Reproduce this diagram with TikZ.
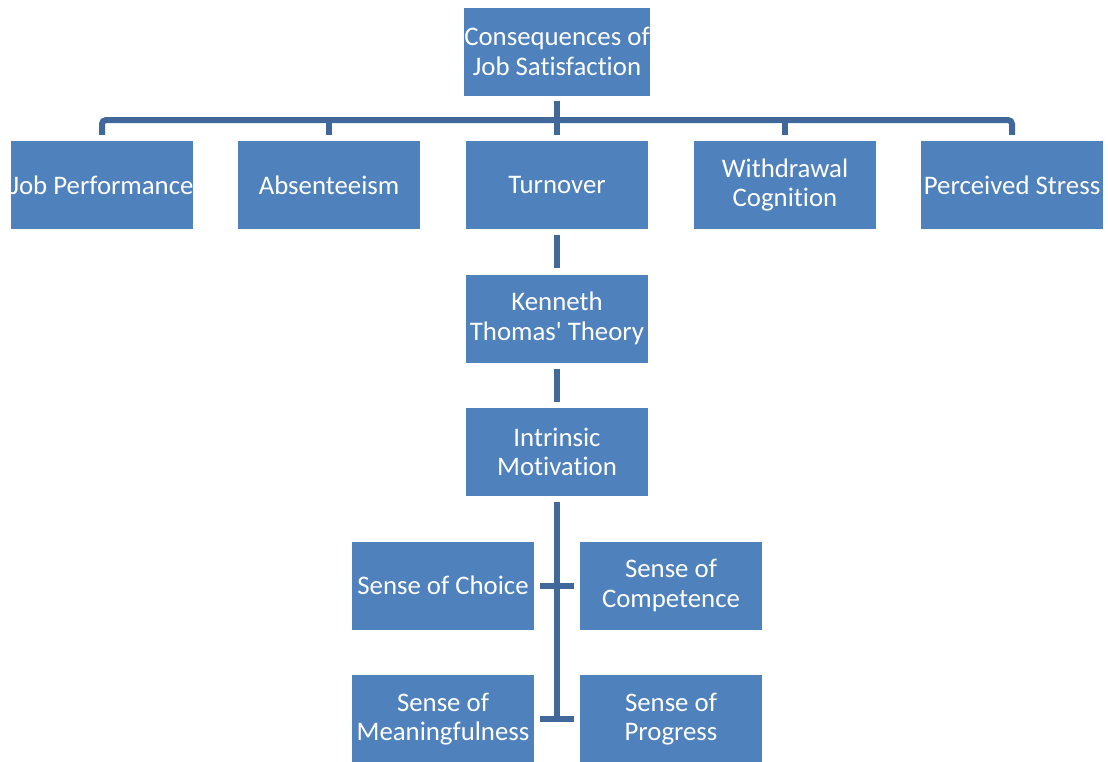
\documentclass[tikz,border=0pt]{standalone}
\usepackage{fontspec}
\setmainfont{Carlito}[Ligatures={NoCommon,TeXOff}]
\definecolor{boxblue}{RGB}{79,129,189}
\definecolor{lineblue}{RGB}{64,104,154}
\begin{document}
\begin{tikzpicture}[x=1pt,y=-1pt,
  box/.style={rectangle, fill=boxblue, minimum width=182pt, minimum height=88pt, inner sep=0pt,
    text=white, align=center, font=\fontsize{26.8}{29.5}\selectfont},
  conn/.style={draw=lineblue, line width=6pt}]
\useasboundingbox (0,0) rectangle (1108,761);
\node[box] (top) at (557,51.5) {Consequences of\\Job Satisfaction};
\node[box] (jp) at (102,185) {Job Performance};
\node[box] (ab) at (329,185) {Absenteeism};
\node[box] (tu) at (557,185) {Turnover};
\node[box] (wc) at (785,185) {Withdrawal\\Cognition};
\node[box] (ps) at (1012,185) {Perceived Stress};
\node[box] (kt) at (557,318.5) {Kenneth\\Thomas' Theory};
\node[box] (im) at (557,452) {Intrinsic\\Motivation};
\node[box] (ch) at (443,585.5) {Sense of Choice};
\node[box] (co) at (671,585.5) {Sense of\\Competence};
\node[box] (me) at (443,719) {Sense of\\Meaningfulness};
\node[box] (pr) at (671,719) {Sense of\\Progress};
\coordinate (bar) at (557,120);
\draw[conn] ([yshift=-5pt]top.south) -- ([yshift=6pt]tu.north);
\draw[conn, rounded corners=4pt] ([yshift=6pt]jp.north) |- (bar) -| ([yshift=6pt]ps.north);
\draw[conn] (ab.north |- bar) -- ([yshift=6pt]ab.north);
\draw[conn] (wc.north |- bar) -- ([yshift=6pt]wc.north);
\draw[conn] ([yshift=-6pt]tu.south) -- ([yshift=6pt]kt.north);
\draw[conn] ([yshift=-6pt]kt.south) -- ([yshift=6pt]im.north);
\draw[conn] ([yshift=-6pt]im.south) -- (im.south |- me.center);
\draw[conn] ([xshift=6pt]ch.east) -- ([xshift=-6pt]co.west);
\draw[conn] ([xshift=6pt]me.east) -- ([xshift=-6pt]pr.west);
\end{tikzpicture}
\end{document}
